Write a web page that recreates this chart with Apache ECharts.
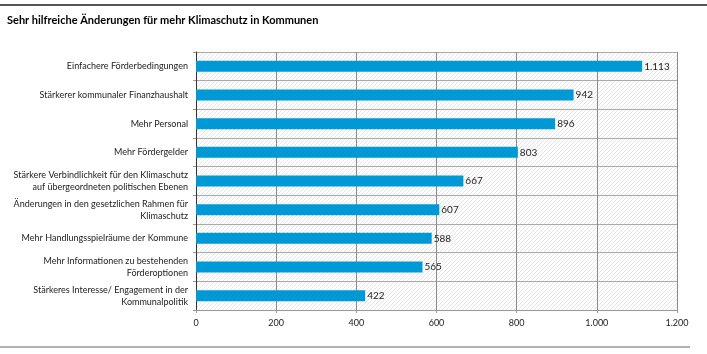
<!DOCTYPE html>
<html>
<head>
<meta charset="utf-8">
<script src="https://cdn.jsdelivr.net/npm/echarts@6/dist/echarts.min.js"></script>
<style>
	html, body { margin: 0; padding: 0; background: #fff; }
</style>
</head>
<body>
<div id="chart1" style="width: 707px; height: 354px"></div>

<script>
	const categories = [
		'Einfachere Förderbedingungen',
		'Stärkerer kommunaler Finanzhaushalt',
		'Mehr Personal',
		'Mehr Fördergelder',
		'Stärkere Verbindlichkeit für den Klimaschutz\nauf übergeordneten politischen Ebenen',
		'Änderungen in den gesetzlichen Rahmen für\nKlimaschutz',
		'Mehr Handlungsspielräume der Kommune',
		'Mehr Informationen zu bestehenden\nFörderoptionen',
		'Stärkeres Interesse/ Engagement in der\nKommunalpolitik'
	];
	const values = [1113, 942, 896, 803, 667, 607, 588, 565, 422];
	const title = 'Sehr hilfreiche Änderungen für mehr Klimaschutz in Kommunen';

	const font = 'Lato, "Open Sans", sans-serif';

	// German thousands separator
	function fmt(v) {
		return String(v).replace(/\B(?=(\d{3})+(?!\d))/g, '.');
	}

	// hatched plot background
	var hatch = document.createElement('canvas');
	hatch.width = 4;
	hatch.height = 4;
	var hc = hatch.getContext('2d');
	hc.fillStyle = '#ffffff';
	hc.fillRect(0, 0, 4, 4);
	hc.strokeStyle = '#e0e0e0';
	hc.lineWidth = 0.8;
	hc.beginPath();
	hc.moveTo(0, 4); hc.lineTo(4, 0);
	hc.moveTo(-1, 1); hc.lineTo(1, -1);
	hc.moveTo(3, 5); hc.lineTo(5, 3);
	hc.stroke();

	var chart1 = echarts.init(document.getElementById('chart1'));

	var chart1_option = {
		animation: false,
		textStyle: { fontFamily: font },
		title: {
			text: title,
			left: 2,
			top: 10,
			textStyle: { fontFamily: font, fontSize: 11, fontWeight: 'bold', color: '#000' }
		},
		graphic: [
			{ type: 'line', shape: { x1: 0, y1: 5, x2: 707, y2: 5 }, style: { stroke: '#555', lineWidth: 2 } },
			{ type: 'line', shape: { x1: 0, y1: 347, x2: 690, y2: 347 }, style: { stroke: '#999', lineWidth: 1.5 } }
		],
		grid: {
			left: 196,
			right: 30,
			top: 52,
			bottom: 44,
			show: true,
			borderWidth: 0,
			backgroundColor: { image: hatch, repeat: 'repeat' }
		},
		xAxis: {
			type: 'value',
			min: 0,
			max: 1200,
			interval: 200,
			axisLine: { show: true, lineStyle: { color: '#999' } },
			axisTick: { show: true, length: 3, lineStyle: { color: '#999' } },
			splitLine: { show: true, lineStyle: { color: '#8c8c8c', width: 1 } },
			axisLabel: {
				color: '#222',
				fontSize: 9,
				margin: 9,
				formatter: fmt
			}
		},
		yAxis: {
			type: 'category',
			inverse: true,
			data: categories,
			axisLine: { show: true, lineStyle: { color: '#333' } },
			axisTick: { show: true, length: 3, lineStyle: { color: '#999' } },
			splitLine: { show: true, lineStyle: { color: '#aaa', width: 1 } },
			axisLabel: {
				color: '#222',
				fontSize: 9,
				lineHeight: 12,
				margin: 8,
				align: 'right'
			}
		},
		series: [{
			type: 'bar',
			data: values,
			barWidth: 11,
			itemStyle: { color: '#0099d6' },
			label: {
				show: true,
				position: 'right',
				distance: 2,
				color: '#222',
				fontSize: 10,
				formatter: function (p) { return fmt(p.value); }
			}
		}]
	};

	chart1.setOption(chart1_option);
</script>
</body>
</html>
